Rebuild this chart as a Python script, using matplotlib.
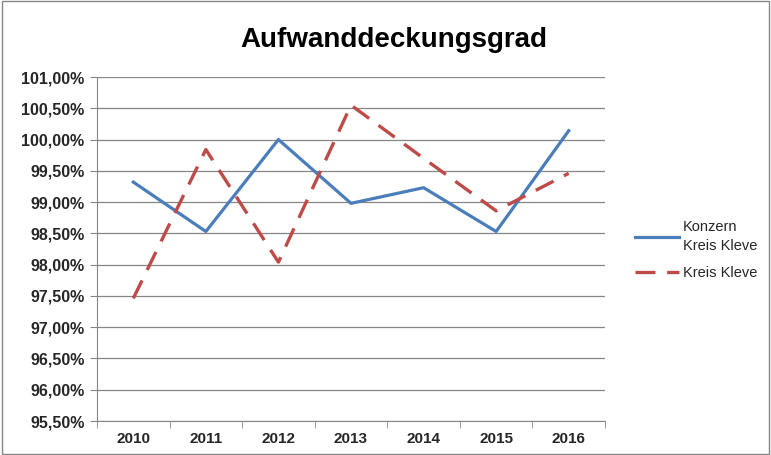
import matplotlib
matplotlib.use("Agg")
import matplotlib.pyplot as plt
from matplotlib.ticker import FuncFormatter, FixedLocator

plt.rcParams['font.family'] = ['Liberation Sans', 'DejaVu Sans']

# Daten
jahre = ['2010', '2011', '2012', '2013', '2014', '2015', '2016']
konzern = [99.32, 98.53, 100.00, 98.98, 99.23, 98.53, 100.14]
kreis = [97.46, 99.84, 98.04, 100.55, 99.70, 98.86, 99.46]
y_ticks = [95.5 + 0.5 * i for i in range(12)]

fig = plt.figure(figsize=(7.71, 4.55), dpi=100)
ax = fig.add_axes([97 / 771, 1 - 421 / 455, (605 - 97) / 771, (421 - 77) / 455])

x = range(len(jahre))
ax.plot(x, konzern, color='#4A7EBB', lw=2.3, label='Konzern\nKreis Kleve')
ax.plot(x, kreis, color='#BE4B48', lw=2.4, dashes=(6, 3.5), label='Kreis Kleve')

ax.set_xlim(-0.5, 6.5)
ax.set_ylim(95.5, 101.0)
ax.set_yticks(y_ticks)
ax.yaxis.set_major_formatter(FuncFormatter(lambda v, p: f"{v:.2f}%".replace('.', ',')))
ax.set_xticks(list(x))
ax.set_xticklabels(jahre)
ax.xaxis.set_minor_locator(FixedLocator([i - 0.5 for i in range(8)]))
ax.tick_params(axis='x', which='major', length=0, pad=8, labelsize=11)
ax.tick_params(axis='x', which='minor', length=5, color='#868686', direction='out')
ax.tick_params(axis='y', length=5, color='#868686', labelsize=11.5, pad=4)
for lab in ax.get_xticklabels() + ax.get_yticklabels():
    lab.set_fontweight('bold')
    lab.set_color('#262626')

ax.grid(axis='y', color='#868686', lw=0.9)
ax.set_axisbelow(True)
for s in ['top', 'right']:
    ax.spines[s].set_visible(False)
ax.spines['left'].set_color('#868686')
ax.spines['bottom'].set_color('#868686')

fig.text(394 / 771, 1 - 40 / 455, 'Aufwanddeckungsgrad', ha='center', va='center',
         fontsize=20, fontweight='bold')

leg = fig.legend(loc='center left', bbox_to_anchor=(622 / 771, 1 - 250 / 455), frameon=False,
                 fontsize=10.5, handlelength=3.0, labelspacing=0.9, handletextpad=0.3)
for t in leg.get_texts():
    t.set_linespacing(1.45)
    t.set_color('#262626')

# Rahmen
fig.patches.append(plt.Rectangle((0.002, 0.003), 0.995, 0.994, transform=fig.transFigure,
                                 fill=False, edgecolor='#868686', lw=1))

fig.savefig('out.png', dpi=100)
